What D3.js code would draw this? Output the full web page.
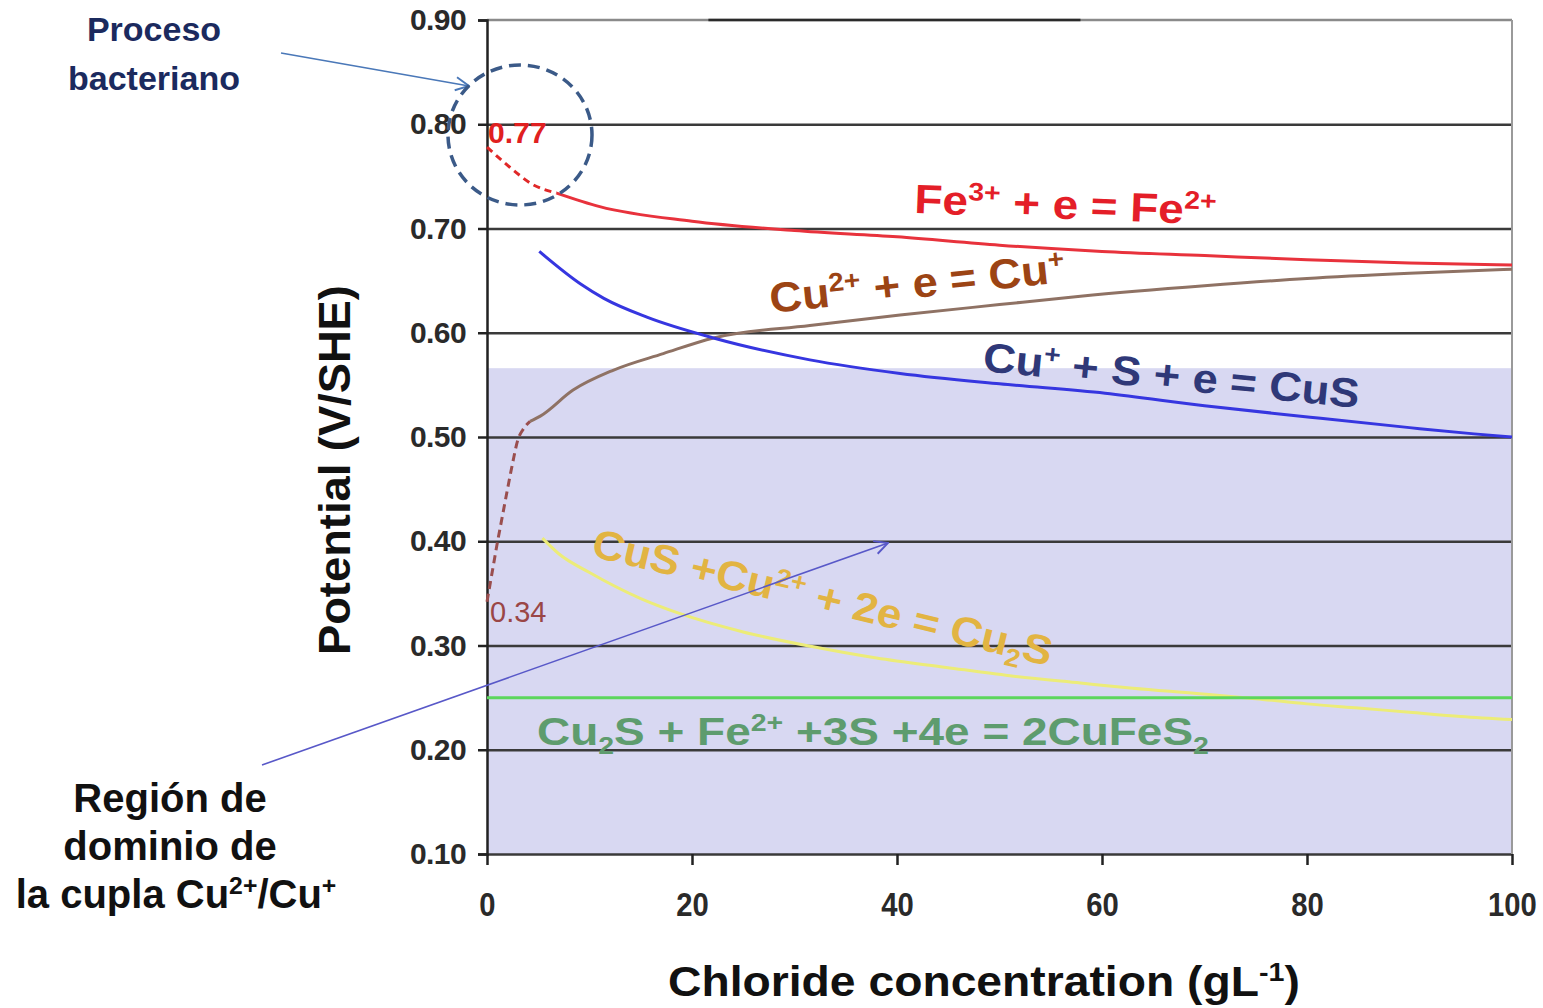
<!DOCTYPE html>
<html>
<head>
<meta charset="utf-8">
<script src="https://cdn.jsdelivr.net/npm/d3@7"></script>
<style>
  body { margin: 0; background: #fff; }
  svg { display: block; }
  text { font-family: "Liberation Sans", Arial, sans-serif; }
</style>
</head>
<body>
<main></main>
<script>
// chart data (x: chloride g/L, y: potential V/SHE)
const feDashX = [0, 2.2, 4.5, 6.8];
const feDashY = [0.778, 0.759, 0.742, 0.734];
const feX = [6.8, 11, 20, 30, 40, 50, 60, 70, 80, 90, 100];
const feY = [0.734, 0.721, 0.707, 0.698, 0.692, 0.684, 0.678, 0.674, 0.670, 0.667, 0.665];

const cuDashX = [0, 0.5, 1, 1.5, 2, 2.5, 3, 3.5, 4.2];
const cuDashY = [0.342, 0.370, 0.398, 0.424, 0.450, 0.475, 0.497, 0.507, 0.515];
const cuX = [4.2, 5.2, 8.4, 12.3, 17.2, 22.1, 31.5, 40.3, 50, 57.9, 70, 80, 90, 100];
const cuY = [0.515, 0.520, 0.545, 0.564, 0.580, 0.595, 0.607, 0.617, 0.627, 0.635, 0.645, 0.652, 0.657, 0.661];

const cusX = [5.1, 9.1, 11.4, 15.6, 22.1, 31.5, 40.3, 50, 60.3, 70, 80.3, 90, 96.3, 100];
const cusY = [0.678, 0.647, 0.633, 0.615, 0.595, 0.574, 0.561, 0.551, 0.542, 0.530, 0.519, 0.509, 0.503, 0.500];

const cu2sX = [5.4, 7, 10, 15, 18.7, 25, 31.7, 38, 44.8, 51, 57.9, 63, 69.2, 75, 80, 85, 90, 95, 100];
const cu2sY = [0.403, 0.388, 0.370, 0.345, 0.331, 0.313, 0.299, 0.288, 0.279, 0.271, 0.264, 0.259, 0.254, 0.249, 0.244, 0.240, 0.236, 0.232, 0.229];

const cufesX = [0, 100];
const cufesY = [0.25, 0.25];

const regionY = [0.10, 0.566];   // shaded Cu2+/Cu+ band
const yTicks = [0.10, 0.20, 0.30, 0.40, 0.50, 0.60, 0.70, 0.80, 0.90];
const xTicks = [0, 20, 40, 60, 80, 100];
const topDark = [21.6, 57.9];    // darker stretch of the top border

const size = { width: 1543, height: 1008 };
const plot = { left: 487, right: 1512, top: 20, bottom: 854 };

const createCanvas = () => {
    return d3.select("main")
        .append("svg")
        .attr("width", size.width)
        .attr("height", size.height);
};

const defineScales = () => {
    const xScale = d3.scaleLinear().domain([0, 100]).range([plot.left, plot.right]);
    const yScale = d3.scaleLinear().domain([0.10, 0.90]).range([plot.bottom, plot.top]);
    return { xScale, yScale };
};

const addMarkers = (svg) => {
    const defs = svg.append("defs");
    [["arrBlue", "#4a78b8"], ["arrPurple", "#5858c8"]].forEach(([id, c]) => {
        defs.append("marker")
            .attr("id", id)
            .attr("viewBox", "0 0 12 12")
            .attr("refX", 11).attr("refY", 6)
            .attr("markerWidth", 16).attr("markerHeight", 16)
            .attr("markerUnits", "userSpaceOnUse")
            .attr("orient", "auto")
            .append("path")
            .attr("d", "M1,1 L11,6 L1,11")
            .attr("fill", "none")
            .attr("stroke", c)
            .attr("stroke-width", 1.4);
    });
};

// squeeze a text to a given width (reference fonts are narrower)
const fitWidth = (sel, width, base) => {
    const w = sel.node().getComputedTextLength();
    sel.attr("transform", base + ` scale(${width / w},1)`);
};

// text made of parts: [string, "sup" | "sub" | ""]
const richText = (g, parts, fs) => {
    const t = g.append("text").attr("font-size", fs);
    let shift = 0;
    parts.forEach(([s, kind]) => {
        let want = 0;
        if (kind === "sup") want = -0.36 * fs;
        if (kind === "sub") want = 0.22 * fs;
        t.append("tspan")
            .attr("dy", want - shift)
            .attr("font-size", kind ? fs * 0.62 : fs)
            .text(s);
        shift = want;
    });
    return t;
};

const createBackground = (svg, scales) => {
    svg.append("rect")
        .attr("x", scales.xScale(0))
        .attr("y", scales.yScale(regionY[1]))
        .attr("width", scales.xScale(100) - scales.xScale(0))
        .attr("height", scales.yScale(regionY[0]) - scales.yScale(regionY[1]))
        .attr("fill", "#d8d8f2");
};

const createAxes = (svg, scales) => {
    // grid
    svg.append("g")
        .attr("transform", `translate(${plot.left},0)`)
        .call(d3.axisLeft(scales.yScale).tickValues(yTicks.slice(0, -1))
            .tickSize(-(plot.right - plot.left)).tickFormat(""))
        .call(g => g.select(".domain").remove())
        .call(g => g.selectAll("line").attr("stroke", "#3a3a3a").attr("stroke-width", 2.5));

    svg.append("line")
        .attr("x1", plot.left).attr("x2", plot.right)
        .attr("y1", scales.yScale(0.90)).attr("y2", scales.yScale(0.90))
        .attr("stroke", "#8a8a8a").attr("stroke-width", 2.5);
    svg.append("line")
        .attr("x1", scales.xScale(topDark[0])).attr("x2", scales.xScale(topDark[1]))
        .attr("y1", scales.yScale(0.90)).attr("y2", scales.yScale(0.90))
        .attr("stroke", "#2a2a2a").attr("stroke-width", 2.5);
    svg.append("line")
        .attr("x1", plot.right).attr("x2", plot.right)
        .attr("y1", plot.top).attr("y2", plot.bottom)
        .attr("stroke", "#9a9a9a").attr("stroke-width", 2);

    const yAxis = svg.append("g")
        .attr("transform", `translate(${plot.left},0)`)
        .call(d3.axisLeft(scales.yScale).tickValues(yTicks).tickSize(9).tickPadding(12)
            .tickFormat(d3.format(".2f")));
    yAxis.select(".domain").attr("stroke", "#222").attr("stroke-width", 2.5);
    yAxis.selectAll("line").attr("stroke", "#222").attr("stroke-width", 2.5);
    yAxis.selectAll("text")
        .attr("font-family", "Liberation Sans, Arial, sans-serif")
        .attr("font-size", 30).attr("font-weight", "bold")
        .attr("fill", "#2a2a2a")
        .attr("letter-spacing", -0.6);

    const xAxis = svg.append("g")
        .attr("transform", `translate(0,${plot.bottom})`)
        .call(d3.axisBottom(scales.xScale).tickValues(xTicks).tickSize(11).tickPadding(27));
    xAxis.select(".domain").remove();
    xAxis.selectAll("line").attr("stroke", "#222").attr("stroke-width", 2.5);
    xAxis.selectAll("text")
        .attr("font-family", "Liberation Sans, Arial, sans-serif")
        .attr("font-size", 34).attr("font-weight", "bold")
        .attr("fill", "#2a2a2a")
        .attr("transform", "scale(0.86,1)");
};

const createLines = (svg, scales) => {
    const line = d3.line()
        .x(d => scales.xScale(d[0]))
        .y(d => scales.yScale(d[1]))
        .curve(d3.curveMonotoneX);
    const series = [
        [feDashX, feDashY, "#e02828", "7,5"],
        [feX, feY, "#e8323c", null],
        [cuDashX, cuDashY, "#9a4e4e", "8,5"],
        [cuX, cuY, "#8f7264", null],
        [cusX, cusY, "#3636e0", null],
        [cu2sX, cu2sY, "#ecec78", null],
        [cufesX, cufesY, "#5cd65c", null]
    ];
    series.forEach(([xv, yv, color, dash]) => {
        svg.append("path")
            .datum(d3.zip(xv, yv))
            .attr("d", line)
            .attr("fill", "none")
            .attr("stroke", color)
            .attr("stroke-width", 3)
            .attr("stroke-dasharray", dash);
    });
};

const createLabels = (svg, scales) => {
    const bold = (t) => t.attr("font-weight", "bold");

    // start values of the two couples
    svg.append("text")
        .attr("x", scales.xScale(0) + 1).attr("y", 143)
        .attr("font-size", 30).attr("font-weight", "bold")
        .attr("fill", "#e02020").text("0.77");
    svg.append("text")
        .attr("x", scales.xScale(0) + 3).attr("y", 622)
        .attr("font-size", 29)
        .attr("fill", "#9a4646").text("0.34");

    const eqs = [
        { parts: [["Fe", ""], ["3+", "sup"], [" + e = Fe", ""], ["2+", "sup"]],
          x: 914, y: 213, rot: 2.2, fs: 41, w: 302, color: "#e41e28" },
        { parts: [["Cu", ""], ["2+", "sup"], [" + e = Cu", ""], ["+", "sup"]],
          x: 771, y: 313, rot: -6, fs: 42, w: 297, color: "#9c4414" },
        { parts: [["Cu", ""], ["+", "sup"], [" + S + e = CuS", ""]],
          x: 982, y: 371, rot: 5.6, fs: 41, w: 378, color: "#2f3878" },
        { parts: [["CuS +Cu", ""], ["2+", "sup"], [" + 2e = Cu", ""], ["2", "sub"], ["S", ""]],
          x: 590, y: 556, rot: 13.5, fs: 41, w: 472, color: "#e2b442" },
        { parts: [["Cu", ""], ["2", "sub"], ["S + Fe", ""], ["2+", "sup"], [" +3S +4e = 2CuFeS", ""], ["2", "sub"]],
          x: 537, y: 745, rot: 0, fs: 39, w: 672, color: "#5e9c6e" }
    ];
    eqs.forEach(e => {
        const t = bold(richText(svg, e.parts, e.fs)).attr("fill", e.color);
        fitWidth(t, e.w, `translate(${e.x},${e.y}) rotate(${e.rot})`);
    });

    // axis titles
    const xt = bold(richText(svg, [["Chloride concentration  (gL", ""], ["-1", "sup"], [")", ""]], 42))
        .attr("fill", "#111");
    fitWidth(xt, 632, "translate(668,996)");
    const yt = bold(svg.append("text")).attr("font-size", 44).attr("fill", "#111")
        .text("Potential (V/SHE)");
    fitWidth(yt, 370, "translate(350,655) rotate(-90)");
};

const createAnnotations = (svg) => {
    // bacterial process
    const p = svg.append("text")
        .attr("font-family", "Open Sans, Lato, sans-serif")
        .attr("font-size", 34).attr("font-weight", "bold")
        .attr("fill", "#1b2a5e").attr("text-anchor", "middle");
    p.append("tspan").attr("x", 154).attr("y", 41).text("Proceso");
    p.append("tspan").attr("x", 154).attr("y", 90).text("bacteriano");

    svg.append("line")
        .attr("x1", 281).attr("y1", 53).attr("x2", 469).attr("y2", 86)
        .attr("stroke", "#4a78b8").attr("stroke-width", 1.6)
        .attr("marker-end", "url(#arrBlue)");

    svg.append("ellipse")
        .attr("cx", 520).attr("cy", 135).attr("rx", 72).attr("ry", 70)
        .attr("fill", "none").attr("stroke", "#3b5a88")
        .attr("stroke-width", 3.5).attr("stroke-dasharray", "12,7");

    // Cu2+/Cu+ region
    const r = svg.append("g").attr("font-weight", "bold").attr("fill", "#111");
    r.append("text").attr("font-size", 40).attr("text-anchor", "middle")
        .attr("x", 170).attr("y", 812).text("Región de");
    r.append("text").attr("font-size", 40).attr("text-anchor", "middle")
        .attr("x", 170).attr("y", 860).text("dominio de");
    richText(r, [["la cupla Cu", ""], ["2+", "sup"], ["/Cu", ""], ["+", "sup"]], 40)
        .attr("text-anchor", "middle").attr("x", 176).attr("y", 908);

    svg.append("line")
        .attr("x1", 262).attr("y1", 765).attr("x2", 888).attr("y2", 543)
        .attr("stroke", "#5858c8").attr("stroke-width", 1.6)
        .attr("marker-end", "url(#arrPurple)");
};

const driver = () => {
    const svg = createCanvas();
    addMarkers(svg);
    const scales = defineScales();
    createBackground(svg, scales);
    createAxes(svg, scales);
    createLines(svg, scales);
    createLabels(svg, scales);
    createAnnotations(svg);
};

driver();
</script>
</body>
</html>
